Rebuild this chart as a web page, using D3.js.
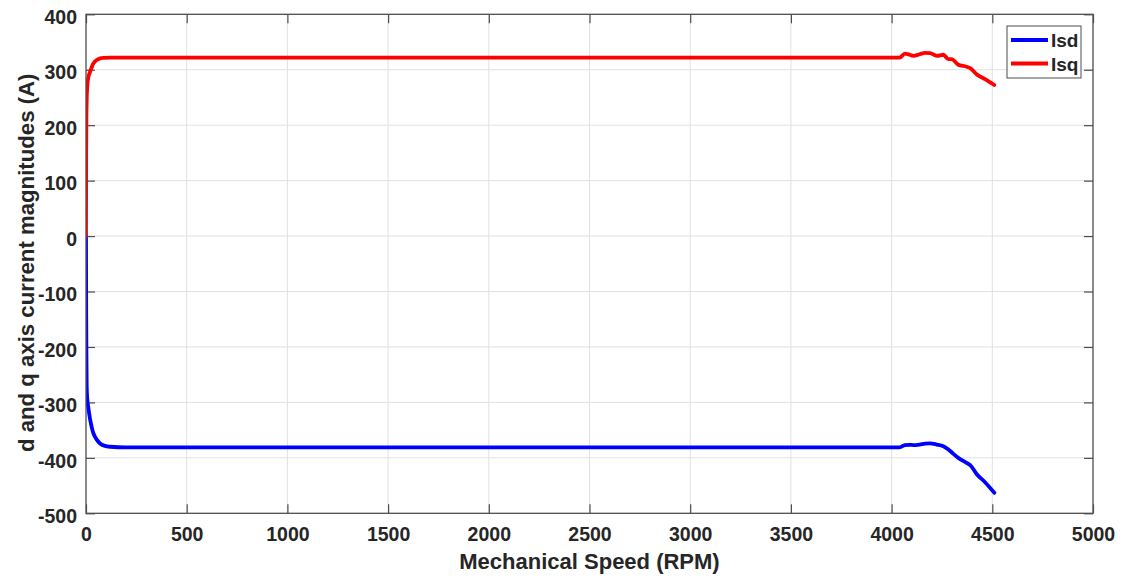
<!DOCTYPE html>
<html>
<head>
<meta charset="utf-8">
<script src="https://cdn.jsdelivr.net/npm/d3@7"></script>
<style>
  html, body { margin: 0; padding: 0; background: #ffffff; }
  svg { display: block; font-family: "Liberation Sans", Arial, Helvetica, sans-serif; }
</style>
</head>
<body>
<svg id="chart" width="1123" height="578"></svg>
<script>
// Motor speed sweep (RPM) and the d/q current magnitudes (A) at each step
const speed = [0, 0.5, 1, 2, 3.5, 6, 11, 20, 28, 36, 45, 55, 70, 90, 120, 200,
  1000, 2000, 3000, 4000, 4040, 4066, 4090, 4108, 4140, 4166, 4191, 4224, 4257,
  4282, 4298, 4331, 4372, 4390, 4422, 4464, 4510];
const isd = [0, -80, -140, -210, -272, -292, -308, -330, -344, -355, -362, -368, -374, -378, -380, -381,
  -381, -381, -381, -381, -381, -377, -376.5, -377, -376, -374.5, -374, -376, -379,
  -385, -390, -400, -409, -413, -429, -444, -463];
const isq = [0, 90, 150, 210, 245, 269, 285, 296, 304, 311, 315, 318, 320.6, 321.5, 322, 322,
  322, 322, 322, 322, 322, 329, 327, 325, 328, 330.5, 330, 325, 327,
  319, 319, 309, 305.5, 303, 292, 283, 272.5];

const xTicks = [0, 500, 1000, 1500, 2000, 2500, 3000, 3500, 4000, 4500, 5000];
const yTicks = [-500, -400, -300, -200, -100, 0, 100, 200, 300, 400];

const seriesNames = ["Isd", "Isq"];
const seriesColors = ["#0000ff", "#ff0000"];

const svg = d3.select("#chart");
const W = 1123, H = 578;
const m = { left: 86, right: W - 1093, top: 14.3, bottom: H - 513.3 };
const iw = W - m.left - m.right, ih = H - m.top - m.bottom;

svg.append("rect").attr("width", W).attr("height", H).attr("fill", "#ffffff");

const x = d3.scaleLinear().domain([0, 5000]).range([m.left, m.left + iw]);
const y = d3.scaleLinear().domain([-500, 400]).range([m.top + ih, m.top]);

const ink = "#262626";
const axisColor = "#4d4d4d";
// plain hyphen for negative numbers
const fmt = d => String(d);

// grid
const grid = svg.append("g");
grid.selectAll("line.gx").data(xTicks.slice(1, -1)).join("line")
  .attr("x1", d => x(d)).attr("x2", d => x(d))
  .attr("y1", m.top).attr("y2", m.top + ih)
  .attr("stroke", "#e1e1e1").attr("stroke-width", 1);
grid.selectAll("line.gy").data(yTicks.slice(1, -1)).join("line")
  .attr("x1", m.left).attr("x2", m.left + iw)
  .attr("y1", d => y(d)).attr("y2", d => y(d))
  .attr("stroke", "#e1e1e1").attr("stroke-width", 1);

// axes with inward ticks on all four sides
const tickLen = 9;
function styleAxis(g) {
  g.select(".domain").remove();
  g.selectAll(".tick line").attr("stroke", axisColor).attr("stroke-width", 1.2);
  g.selectAll(".tick text").attr("fill", ink).attr("font-weight", "bold")
    .attr("font-size", 19.5).attr("font-family", "'Liberation Sans', Arial, sans-serif");
}
const gxB = svg.append("g").attr("transform", `translate(0,${m.top + ih})`)
  .call(d3.axisBottom(x).tickValues(xTicks).tickFormat(fmt)
    .tickSizeInner(-tickLen).tickSizeOuter(0).tickPadding(14));
styleAxis(gxB);
gxB.selectAll(".tick text").attr("dy", "0.71em");
const gxT = svg.append("g").attr("transform", `translate(0,${m.top})`)
  .call(d3.axisTop(x).tickValues(xTicks).tickFormat("").tickSizeInner(-tickLen).tickSizeOuter(0));
styleAxis(gxT);
const gyL = svg.append("g").attr("transform", `translate(${m.left},0)`)
  .call(d3.axisLeft(y).tickValues(yTicks).tickFormat(fmt)
    .tickSizeInner(-tickLen).tickSizeOuter(0).tickPadding(9));
styleAxis(gyL);
gyL.selectAll(".tick text").attr("dy", "0.47em");
const gyR = svg.append("g").attr("transform", `translate(${m.left + iw},0)`)
  .call(d3.axisRight(y).tickValues(yTicks).tickFormat("").tickSizeInner(-tickLen).tickSizeOuter(0));
styleAxis(gyR);

// clip the curves to the plot box
svg.append("clipPath").attr("id", "plotClip").append("rect")
  .attr("x", m.left).attr("y", m.top).attr("width", iw).attr("height", ih);

const series = [isd, isq];
const line = d3.line().x(d => x(d[0])).y(d => y(d[1])).curve(d3.curveMonotoneX);
series.forEach((vals, i) => {
  svg.append("path")
    .datum(speed.map((s, k) => [s, vals[k]]))
    .attr("clip-path", "url(#plotClip)")
    .attr("fill", "none")
    .attr("stroke", seriesColors[i])
    .attr("stroke-width", 3.8)
    .attr("stroke-linejoin", "round")
    .attr("stroke-linecap", "round")
    .attr("d", line);
});

// plot box
svg.append("rect").attr("x", m.left).attr("y", m.top).attr("width", iw).attr("height", ih)
  .attr("fill", "none").attr("stroke", axisColor).attr("stroke-width", 1.3);

// axis titles
svg.append("text")
  .attr("x", m.left + iw / 2).attr("y", 569)
  .attr("text-anchor", "middle").attr("font-weight", "bold").attr("font-size", 22)
  .attr("fill", ink).text("Mechanical Speed (RPM)");
svg.append("text")
  .attr("transform", `translate(34,${m.top + ih / 2 - 1}) rotate(-90)`)
  .attr("text-anchor", "middle").attr("font-weight", "bold").attr("font-size", 22.2)
  .attr("fill", ink).text("d and q axis current magnitudes (A)");

// legend
const lg = svg.append("g").attr("transform", "translate(1007,26)");
lg.append("rect").attr("width", 74).attr("height", 52)
  .attr("fill", "#ffffff").attr("stroke", axisColor).attr("stroke-width", 1);
seriesNames.forEach((name, i) => {
  const cy = 14 + i * 23.5;
  lg.append("line").attr("x1", 4).attr("x2", 41).attr("y1", cy).attr("y2", cy)
    .attr("stroke", seriesColors[i]).attr("stroke-width", 3.8);
  lg.append("text").attr("x", 44).attr("y", cy + 7)
    .attr("font-weight", "bold").attr("font-size", 19).attr("fill", ink).text(name);
});
</script>
</body>
</html>
